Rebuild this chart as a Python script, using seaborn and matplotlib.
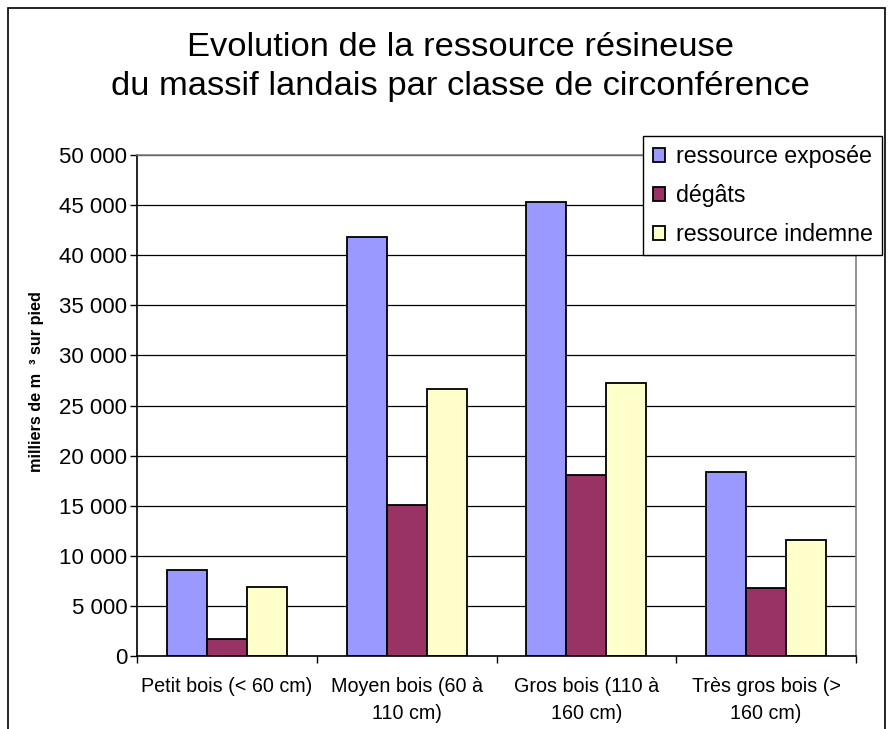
import matplotlib
matplotlib.use("Agg")
import matplotlib.pyplot as plt
import seaborn as sns
import pandas as pd
from matplotlib.ticker import FuncFormatter, FixedLocator
from matplotlib.patches import Rectangle

categories = ["Petit bois (< 60 cm)", "Moyen bois (60 à\n110 cm)",
              "Gros bois (110 à\n160 cm)", "Très gros bois (>\n160 cm)"]
series = ["ressource exposée", "dégâts", "ressource indemne"]
exposee = [8550, 41800, 45300, 18400]
degats = [1700, 15100, 18100, 6800]
indemne = [6850, 26600, 27200, 11600]
colors = ["#9999FF", "#993366", "#FFFFCC"]

rows = []
for s, vals in zip(series, [exposee, degats, indemne]):
    for c, v in zip(categories, vals):
        rows.append({"classe": c, "valeur": v, "serie": s})
df = pd.DataFrame(rows)

sns.set_style("white")
plt.rcParams["font.family"] = ["Liberation Sans", "DejaVu Sans"]
plt.rcParams["text.color"] = "black"
plt.rcParams["axes.labelcolor"] = "black"
plt.rcParams["xtick.color"] = "black"
plt.rcParams["ytick.color"] = "black"

fig = plt.figure(figsize=(8.9, 7.29), dpi=100)
W, H = 890, 729
ax = fig.add_axes([137 / W, 1 - 656 / H, (856 - 137) / W, (656 - 155) / H])

sns.barplot(data=df, x="classe", y="valeur", hue="serie", order=categories,
            hue_order=series, palette=dict(zip(series, colors)),
            edgecolor="black", linewidth=1.3, width=0.667, gap=0,
            saturation=1, ax=ax, errorbar=None)

ax.set_ylim(0, 50000)
ax.set_xlim(-0.5, 3.5)
ax.set_yticks(range(0, 50001, 5000))
ax.yaxis.set_major_formatter(FuncFormatter(lambda v, p: f"{int(v):,}".replace(",", " ")))
ax.yaxis.grid(True, color="black", linewidth=0.9)
ax.set_axisbelow(True)
ax.tick_params(axis="y", which="major", length=5, width=1, color="black",
               labelsize=16, pad=2, direction="out", left=True)
ax.tick_params(axis="x", which="major", length=0, labelsize=14.2, pad=15)
ax.xaxis.set_minor_locator(FixedLocator([-0.5, 0.5, 1.5, 2.5, 3.5]))
ax.tick_params(axis="x", which="minor", length=5, width=1, color="black",
               direction="out", bottom=True)
for lab in ax.get_xticklabels():
    lab.set_multialignment("center")
    lab.set_linespacing(1.55)
ax.set_xlabel("")
ax.set_ylabel("milliers de m  ³ sur pied", fontsize=11.7, fontweight="bold")
ax.yaxis.set_label_coords(-0.129, 0.547)

for side in ["left", "bottom"]:
    ax.spines[side].set_color("black")
    ax.spines[side].set_linewidth(1.2)
for side in ["right", "top"]:
    ax.spines[side].set_color("#808080")
    ax.spines[side].set_linewidth(1.2)
    ax.spines[side].set_visible(True)

handles, labels = ax.get_legend_handles_labels()
ax.legend(handles, labels, loc="upper right",
          bbox_to_anchor=(882 / W, 1 - 136 / H), bbox_transform=fig.transFigure,
          fontsize=16.7, frameon=True, fancybox=False, edgecolor="black",
          framealpha=1, handlelength=0.55, handleheight=0.55,
          handletextpad=0.45, labelspacing=0.68, borderpad=0.4,
          borderaxespad=0)
ax.get_legend().get_frame().set_linewidth(1.0)
for t in ax.get_legend().get_texts():
    t.set_color("black")

fig.text(460 / W, 1 - 67 / H, "Evolution de la ressource résineuse\ndu massif landais par classe de circonférence",
         ha="center", va="center", fontsize=24.8, linespacing=1.3)

fig.patches.append(Rectangle((8 / W, -0.1), (885 - 8) / W, 1.1 - 8 / H,
                             transform=fig.transFigure, fill=False,
                             edgecolor="black", linewidth=1.2))

fig.savefig("out.png", dpi=100)
